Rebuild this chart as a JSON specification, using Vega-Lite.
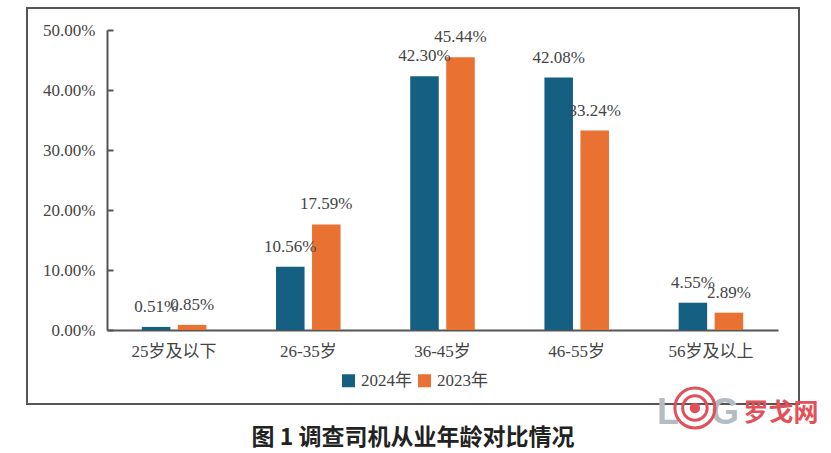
{
  "$schema": "https://vega.github.io/schema/vega-lite/v6.json",
  "background": "#ffffff",
  "width": 772,
  "height": 396,
  "padding": {"left": 27, "top": 8, "right": 32, "bottom": 49},
  "autosize": {"type": "none"},
  "title": {
    "text": "图 1  调查司机从业年龄对比情况",
    "orient": "bottom",
    "anchor": "middle",
    "offset": -7,
    "font": "Noto Sans CJK SC",
    "fontSize": 23,
    "fontWeight": "bold",
    "color": "#222222"
  },
  "config": {
    "view": {"stroke": "#555555", "strokeWidth": 2}
  },
  "layer": [
    {
      "data": {
        "values": [
          {"age": "25岁及以下", "year": "2024年", "share": 0.0051},
          {"age": "25岁及以下", "year": "2023年", "share": 0.0085},
          {"age": "26-35岁", "year": "2024年", "share": 0.1056},
          {"age": "26-35岁", "year": "2023年", "share": 0.1759},
          {"age": "36-45岁", "year": "2024年", "share": 0.423},
          {"age": "36-45岁", "year": "2023年", "share": 0.4544},
          {"age": "46-55岁", "year": "2024年", "share": 0.4208},
          {"age": "46-55岁", "year": "2023年", "share": 0.3324},
          {"age": "56岁及以上", "year": "2024年", "share": 0.0455},
          {"age": "56岁及以上", "year": "2023年", "share": 0.0289}
        ]
      },
      "encoding": {
        "x": {
          "field": "age",
          "type": "nominal",
          "sort": ["25岁及以下", "26-35岁", "36-45岁", "46-55岁", "56岁及以上"],
          "scale": {"range": [80, 751], "paddingInner": 0.519, "paddingOuter": 0.2595},
          "axis": {
            "title": null,
            "labelAngle": 0,
            "offset": -74,
            "ticks": false,
            "domainColor": "#555555",
            "domainWidth": 2,
            "labelFont": "Liberation Serif, Noto Sans CJK SC",
            "labelFontSize": 17,
            "labelColor": "#444444",
            "labelPadding": 13
          }
        },
        "xOffset": {
          "field": "year",
          "sort": ["2024年", "2023年"],
          "scale": {"paddingInner": 0.208, "paddingOuter": 0}
        },
        "y": {
          "field": "share",
          "type": "quantitative",
          "scale": {"domain": [0, 0.5], "range": [322, 22], "nice": false},
          "axis": {
            "title": null,
            "values": [0, 0.1, 0.2, 0.3, 0.4, 0.5],
            "format": ".2%",
            "grid": false,
            "offset": -80,
            "tickSize": -6,
            "tickWidth": 2,
            "tickColor": "#555555",
            "domainColor": "#555555",
            "domainWidth": 2,
            "labelFont": "Liberation Serif, Noto Sans CJK SC",
            "labelFontSize": 17,
            "labelColor": "#444444",
            "labelPadding": 18
          }
        }
      },
      "layer": [
        {
          "mark": {"type": "bar"},
          "encoding": {
            "color": {
              "field": "year",
              "type": "nominal",
              "sort": ["2024年", "2023年"],
              "scale": {"domain": ["2024年", "2023年"], "range": ["#156082", "#E97132"]},
              "legend": {
                "title": null,
                "orient": "none",
                "legendX": 313,
                "legendY": 364,
                "direction": "horizontal",
                "columns": 2,
                "symbolType": "square",
                "symbolSize": 169,
                "labelFont": "Liberation Serif, Noto Sans CJK SC",
                "labelFontSize": 17,
                "labelColor": "#444444",
                "columnPadding": 4
              }
            }
          }
        },
        {
          "mark": {
            "type": "text",
            "baseline": "middle",
            "dy": -20,
            "font": "Liberation Serif",
            "fontSize": 17,
            "color": "#444444"
          },
          "encoding": {
            "text": {"field": "share", "type": "quantitative", "format": ".2%"}
          }
        }
      ]
    },
    {
      "data": {"values": [{"age": "56岁及以上", "share": -0.138, "word": "L"}]},
      "mark": {"type": "text", "dx": -43, "font": "Liberation Sans", "fontWeight": "bold", "fontSize": 36, "color": "#b4bcc3"},
      "encoding": {
        "x": {"field": "age", "type": "nominal"},
        "y": {"field": "share", "type": "quantitative"},
        "text": {"field": "word"}
      }
    },
    {
      "data": {"values": [{"age": "56岁及以上", "share": -0.138, "word": "G"}]},
      "mark": {"type": "text", "dx": 14, "font": "Liberation Sans", "fontWeight": "bold", "fontSize": 36, "color": "#b4bcc3"},
      "encoding": {
        "x": {"field": "age", "type": "nominal"},
        "y": {"field": "share", "type": "quantitative"},
        "text": {"field": "word"}
      }
    },
    {
      "data": {"values": [{"age": "56岁及以上", "share": -0.138, "word": "罗戈网"}]},
      "mark": {"type": "text", "dx": 70, "font": "Noto Sans CJK SC", "fontWeight": "bold", "fontSize": 25, "color": "#e2505a"},
      "encoding": {
        "x": {"field": "age", "type": "nominal"},
        "y": {"field": "share", "type": "quantitative"},
        "text": {"field": "word"}
      }
    },
    {
      "data": {"values": [{"age": "56岁及以上", "share": -0.13}]},
      "mark": {"type": "point", "shape": "circle", "size": 1600, "filled": false, "stroke": "#e2505a", "strokeWidth": 3, "opacity": 1, "xOffset": -16},
      "encoding": {
        "x": {"field": "age", "type": "nominal"},
        "y": {"field": "share", "type": "quantitative"}
      }
    },
    {
      "data": {"values": [{"age": "56岁及以上", "share": -0.13}]},
      "mark": {"type": "point", "shape": "circle", "size": 600, "filled": false, "stroke": "#e2505a", "strokeWidth": 3, "opacity": 1, "xOffset": -16},
      "encoding": {
        "x": {"field": "age", "type": "nominal"},
        "y": {"field": "share", "type": "quantitative"}
      }
    },
    {
      "data": {"values": [{"age": "56岁及以上", "share": -0.13}]},
      "mark": {"type": "point", "shape": "circle", "size": 110, "filled": true, "color": "#e2505a", "opacity": 1, "xOffset": -16},
      "encoding": {
        "x": {"field": "age", "type": "nominal"},
        "y": {"field": "share", "type": "quantitative"}
      }
    }
  ]
}
